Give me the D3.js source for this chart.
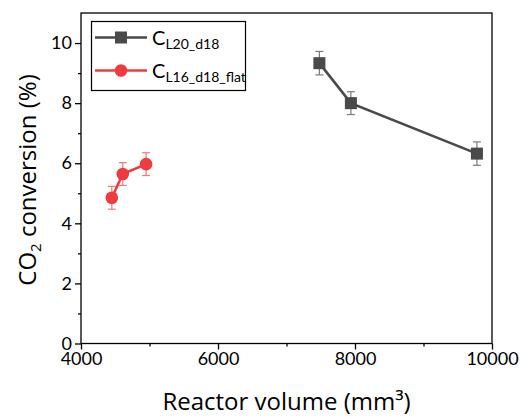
<!DOCTYPE html>
<html>
<head>
<meta charset="utf-8">
<script src="https://cdn.jsdelivr.net/npm/d3@7"></script>
<style>
    body { margin: 0; background: #fff; }
    text { font-family: "Open Sans", Lato, sans-serif; fill: #000; }
</style>
</head>
<body>
<div id="graphContainer"></div>
<script>
"use strict";
// data
const volL20 = [7480, 7940, 9780]
const convL20 = [9.33, 8.0, 6.32]
const errL20 = [0.39, 0.38, 0.39]

const volL16 = [4450, 4610, 4950]
const convL16 = [4.85, 5.64, 5.97]
const errL16 = [0.38, 0.38, 0.38]

const xTicks = [4000, 6000, 8000, 10000]
const xMinor = [5000, 7000, 9000]
const yTicks = [0, 2, 4, 6, 8, 10]
const yMinor = [1, 3, 5, 7, 9]

const measurements = { width: 520, height: 417, left: 81, right: 492, top: 13, bottom: 343.5 }

const svg = d3.select("#graphContainer").append("svg")
    .attr("width", measurements.width)
    .attr("height", measurements.height)

const scaleX = d3.scaleLinear().domain([4000, 10000]).range([measurements.left, measurements.right])
const scaleY = d3.scaleLinear().domain([0, 11]).range([measurements.bottom, measurements.top])

// frame
svg.append("rect")
    .attr("x", measurements.left).attr("y", measurements.top)
    .attr("width", measurements.right - measurements.left)
    .attr("height", measurements.bottom - measurements.top)
    .attr("fill", "none").attr("stroke", "#000").attr("stroke-width", 1.3)

// axes
const xAxis = svg.append("g")
    .attr("transform", "translate(0," + measurements.bottom + ")")
    .call(d3.axisBottom(scaleX).tickValues(xTicks).tickFormat(d3.format("d")).tickSize(6).tickSizeOuter(0).tickPadding(3))
xAxis.append("g").call(d3.axisBottom(scaleX).tickValues(xMinor).tickSize(3).tickSizeOuter(0).tickFormat(""))
const yAxis = svg.append("g")
    .attr("transform", "translate(" + measurements.left + ",0)")
    .call(d3.axisLeft(scaleY).tickValues(yTicks).tickSize(6).tickSizeOuter(0).tickPadding(3))
yAxis.append("g").call(d3.axisLeft(scaleY).tickValues(yMinor).tickSize(3).tickSizeOuter(0).tickFormat(""))

svg.selectAll(".domain").remove()
svg.selectAll(".tick line").attr("stroke", "#000").attr("stroke-width", 1.3)
svg.selectAll(".tick text").style("font-size", "18px").style("font-family", "Lato, sans-serif").attr("fill", "#000")

// axis titles
svg.append("text")
    .attr("x", (measurements.left + measurements.right) / 2)
    .attr("y", 410)
    .style("text-anchor", "middle")
    .style("font-size", "24px")
    .text("Reactor volume (mm³)")

const yTitle = svg.append("text")
    .attr("transform", "translate(36,180) rotate(-90)")
    .style("text-anchor", "middle")
    .style("font-size", "24px")
yTitle.append("tspan").text("CO")
yTitle.append("tspan").attr("dy", 5).style("font-size", "15px").text("2")
yTitle.append("tspan").attr("dy", -5).text(" conversion (%)")

function drawSeries(xs, ys, es, lineColor, errColor, shape) {
    const pts = xs.map((x, i) => ({ x: x, y: ys[i], e: es[i] }))
    const line = d3.line().x(d => scaleX(d.x)).y(d => scaleY(d.y))
    svg.append("path").datum(pts)
        .attr("d", line).attr("fill", "none")
        .attr("stroke", lineColor).attr("stroke-width", 2.6)
    const g = svg.append("g")
    pts.forEach(d => {
        const cx = scaleX(d.x)
        g.append("line").attr("x1", cx).attr("x2", cx)
            .attr("y1", scaleY(d.y - d.e)).attr("y2", scaleY(d.y + d.e))
            .attr("stroke", errColor).attr("stroke-width", 1.2)
        ;[d.y - d.e, d.y + d.e].forEach(v => {
            g.append("line").attr("x1", cx - 4).attr("x2", cx + 4)
                .attr("y1", scaleY(v)).attr("y2", scaleY(v))
                .attr("stroke", errColor).attr("stroke-width", 1.2)
        })
    })
    pts.forEach(d => drawMarker(scaleX(d.x), scaleY(d.y), lineColor, shape))
}

function drawMarker(cx, cy, color, shape) {
    if (shape === "square") {
        svg.append("rect").attr("x", cx - 6).attr("y", cy - 6)
            .attr("width", 12).attr("height", 12).attr("fill", color)
    } else {
        svg.append("circle").attr("cx", cx).attr("cy", cy).attr("r", 6.3).attr("fill", color)
    }
}

drawSeries(volL20, convL20, errL20, "#4a4a4a", "#7a7a7a", "square")
drawSeries(volL16, convL16, errL16, "#ef3b3f", "#f27a7c", "circle")

// legend
svg.append("rect")
    .attr("x", 91.5).attr("y", 21.5).attr("width", 154).attr("height", 69)
    .attr("fill", "#fff").attr("stroke", "#000").attr("stroke-width", 1.2)

const legendItems = [
    { main: "C", sub: "L20_d18", color: "#4a4a4a", shape: "square", y: 37.5 },
    { main: "C", sub: "L16_d18_flat", color: "#ef3b3f", shape: "circle", y: 70.5 }
]
legendItems.forEach(item => {
    svg.append("line").attr("x1", 95).attr("x2", 147)
        .attr("y1", item.y).attr("y2", item.y)
        .attr("stroke", item.color).attr("stroke-width", 2.6)
    drawMarker(121, item.y, item.color, item.shape)
    const t = svg.append("text").attr("x", 152).attr("y", item.y + 7)
        .style("font-size", "20px").style("font-family", "Lato, sans-serif")
    t.append("tspan").text(item.main)
    t.append("tspan").attr("dy", 4).style("font-size", "14px").text(item.sub)
})
</script>
</body>
</html>
